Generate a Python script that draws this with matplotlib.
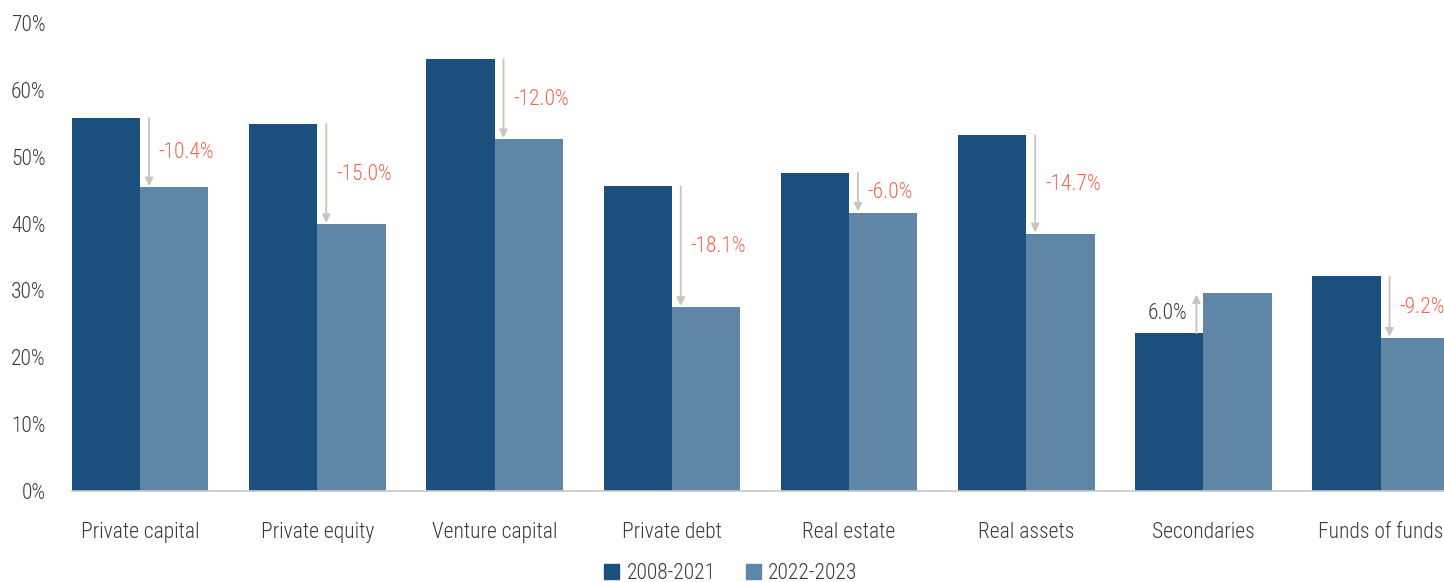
import matplotlib
matplotlib.use('Agg')
import matplotlib.pyplot as plt
import numpy as np
from matplotlib.patches import Patch
from matplotlib import font_manager

names = {f.name for f in font_manager.fontManager.ttflist}
fams = [f for f in ['Roboto Condensed', 'Open Sans Condensed', 'Liberation Sans Narrow', 'Lato'] if f in names]
plt.rcParams['font.family'] = fams + ['DejaVu Sans']
plt.rcParams['font.weight'] = 'light'

categories = ['Private capital', 'Private equity', 'Venture capital', 'Private debt',
              'Real estate', 'Real assets', 'Secondaries', 'Funds of funds']
early = [55.8, 54.9, 64.6, 45.6, 47.6, 53.2, 23.6, 32.1]   # 2008-2021
late = [45.4, 39.9, 52.6, 27.5, 41.6, 38.5, 29.6, 22.9]    # 2022-2023
changes = ['-10.4%', '-15.0%', '-12.0%', '-18.1%', '-6.0%', '-14.7%', '6.0%', '-9.2%']
series = ['2008-2021', '2022-2023']

dark = '#1b4f7e'
light = '#5f86a7'
red = '#f2654b'
arrow_col = '#c9c5bd'
text_col = '#3a3a3a'
fs = 15.5

fig = plt.figure(figsize=(14.44, 5.82), dpi=100)
ax = fig.add_axes([72/1444, 91/582, 1372.5/1444, 468/582])

x = np.arange(len(categories))
w = 0.385
ax.bar(x - w/2, early, w, color=dark, zorder=2)
ax.bar(x + w/2, late, w, color=light, zorder=2)

for i in range(len(categories)):
    a, b = early[i], late[i]
    if b < a:
        ax.annotate('', xy=(x[i] + 0.05, b), xytext=(x[i] + 0.05, a),
                    arrowprops=dict(arrowstyle='-|>', color=arrow_col, lw=1.3,
                                    mutation_scale=12, shrinkA=0, shrinkB=1))
        ax.text(x[i] + 0.105, (a + b) / 2, changes[i], color=red, fontsize=fs,
                ha='left', va='center')
    else:
        ax.annotate('', xy=(x[i] - 0.04, b), xytext=(x[i] - 0.04, a),
                    arrowprops=dict(arrowstyle='-|>', color=arrow_col, lw=1.3,
                                    mutation_scale=12, shrinkA=0, shrinkB=1))
        ax.text(x[i] - 0.09, (a + b) / 2, changes[i], color=text_col, fontsize=fs,
                ha='right', va='center')

ax.set_ylim(0, 70)
ax.set_xlim(-w, len(categories) - 1 + 0.36)
ax.set_yticks(range(0, 71, 10))
ax.set_yticklabels([f'{v}%' for v in range(0, 71, 10)])
ax.set_xticks(x)
ax.set_xticklabels(categories)
ax.tick_params(axis='both', length=0, labelsize=fs, colors=text_col)
ax.tick_params(axis='y', pad=19)
ax.tick_params(axis='x', pad=22)
for s in ['top', 'right', 'left']:
    ax.spines[s].set_visible(False)
ax.spines['bottom'].set_color('#c8c8c8')
ax.spines['bottom'].set_linewidth(1.2)

handles = [Patch(color=dark), Patch(color=light)]
fig.legend(handles, series, loc='lower center', bbox_to_anchor=(0.506, -0.037), ncol=2,
           frameon=False, fontsize=fs, handlelength=0.7, handleheight=0.7,
           handletextpad=0.35, columnspacing=1.4, labelcolor=text_col)

fig.savefig('out.png', dpi=100)
